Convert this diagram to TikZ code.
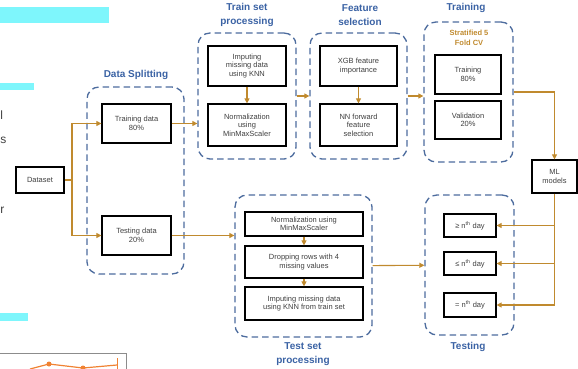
\documentclass[tikz,border=0pt]{standalone}
\usepackage{fontspec}
\setmainfont{Liberation Sans}
\usetikzlibrary{positioning,arrows.meta}
\definecolor{colFlecha}{HTML}{C08A2E}
\definecolor{colMarco}{HTML}{4D6C9E}
\definecolor{colTitulo}{HTML}{3A62A4}
\definecolor{colBarra}{HTML}{7EF6FC}
\definecolor{colGrafico}{HTML}{F08232}

\begin{document}
\begin{tikzpicture}[
  x=1pt, y=-1pt,
  >=Stealth,
  caja/.style={
    rectangle, draw=black, line width=1.2pt, fill=white,
    text=black!75, align=center, inner sep=1pt,
    font=\fontsize{7.5}{8.6}\selectfont
  },
  grupo/.style={
    rectangle, draw=colMarco, line width=1.3pt,
    dash pattern=on 6.5pt off 4pt, rounded corners=12pt
  },
  titulo/.style={
    text=colTitulo, align=center,
    font=\bfseries\fontsize{10}{13.5}\selectfont
  },
  flecha/.style={
    draw=colFlecha, line width=1.1pt,
    -{Triangle[length=5pt,width=5pt]}
  },
  linea/.style={draw=colFlecha, line width=1.1pt},
  resto/.style={anchor=base west, text=black!75, inner sep=0pt,
    font=\fontsize{12}{14}\selectfont}
]
  \useasboundingbox (0,0) rectangle (578,369);

  % restos de la diapositiva
  \fill[colBarra] (0,7) rectangle (109,23);
  \fill[colBarra] (0,83) rectangle (34,90);
  \fill[colBarra] (0,313) rectangle (28,321);
  \node[resto] (frag1) at (0.3,119) {l};
  \node[resto] (frag2) at (0.3,143) {s};
  \node[resto] (frag3) at (0.3,213) {r};
  \draw[black!45, line width=0.8pt] (-2,353) rectangle (126,380);
  \draw[colGrafico, line width=1.2pt] (30,369) -- (49,364) -- (83,368) -- (117,365);
  \fill[colGrafico] (49,364) circle (2.5pt) (83,368) circle (2.5pt);
  \draw[colGrafico, line width=1pt] (117,358) -- (117,370);

  % Dataset
  \node[caja, minimum width=48pt, minimum height=26pt] (dataset) at (40,180) {Dataset};

  % Data Splitting
  \node[grupo, minimum width=97pt, minimum height=187pt] (split) at (135.5,180.5) {};
  \node[titulo] (tsplit) at (136,75) {Data Splitting};
  \node[caja, minimum width=69pt, minimum height=39pt] (trainData) at (136.5,123.5) {Training data\\80\%};
  \node[caja, minimum width=69pt, minimum height=39pt] (testData) at (136.5,235.5) {Testing data\\20\%};

  % Train set processing
  \node[grupo, minimum width=98pt, minimum height=126pt] (trainProc) at (247,96) {};
  \node[titulo] (ttrainProc) at (247,15) {Train set\\processing};
  \node[caja, minimum width=78pt, minimum height=40pt] (impTrain) at (247,66) {Imputing\\missing data\\using KNN};
  \node[caja, minimum width=78pt, minimum height=42pt] (normTrain) at (247,125) {Normalization\\using\\MinMaxScaler};

  % Feature selection
  \node[grupo, minimum width=97pt, minimum height=126pt] (feat) at (358.5,96) {};
  \node[titulo] (tfeat) at (360,15) {Feature\\selection};
  \node[caja, minimum width=77pt, minimum height=40pt] (xgb) at (358.5,66) {XGB feature\\importance};
  \node[caja, minimum width=77pt, minimum height=42pt] (nnff) at (358.5,125) {NN forward\\feature\\selection};

  % Training
  \node[grupo, minimum width=89pt, minimum height=140pt] (train) at (468.5,92) {};
  \node[titulo] (ttrain) at (466,8) {Training};
  \node[text=colFlecha, align=center, font=\bfseries\fontsize{7.5}{9.5}\selectfont] (strat) at (469,38) {Stratified 5\\Fold CV};
  \node[caja, minimum width=66pt, minimum height=39pt] (tr80) at (468,74.5) {Training\\80\%};
  \node[caja, minimum width=66pt, minimum height=38pt] (val20) at (468,120) {Validation\\20\%};

  % ML models
  \node[caja, minimum width=45pt, minimum height=33pt] (ml) at (554.5,176.5) {ML\\models};

  % Test set processing
  \node[grupo, minimum width=137pt, minimum height=142pt] (testProc) at (303.5,266) {};
  \node[titulo] (ttestProc) at (303,354) {Test set\\processing};
  \node[caja, minimum width=118pt, minimum height=24pt] (normTest) at (304,224) {Normalization using\\MinMaxScaler};
  \node[caja, minimum width=118pt, minimum height=32pt] (dropRows) at (304,262) {Dropping rows with 4\\missing values};
  \node[caja, minimum width=118pt, minimum height=33pt] (impTest) at (304,303.5) {Imputing missing data\\using KNN from train set};

  % Testing
  \node[grupo, minimum width=89pt, minimum height=140pt] (testing) at (469.5,265) {};
  \node[titulo] (ttesting) at (468,347) {Testing};
  \node[caja, minimum width=52pt, minimum height=23pt] (ge) at (470,225.5) {≥ n\textsuperscript{th} day};
  \node[caja, minimum width=52pt, minimum height=23pt] (le) at (470,263.5) {≤ n\textsuperscript{th} day};
  \node[caja, minimum width=52pt, minimum height=24pt] (eq) at (470,305) {= n\textsuperscript{th} day};

  % Conexiones
  \coordinate (bif) at (72,180);
  \draw[linea] (dataset) -- (bif);
  \draw[flecha] (bif) |- (trainData);
  \draw[flecha] (bif) |- (testData);
  \draw[flecha] (trainData) -- (trainData -| trainProc.west);
  \draw[flecha] (impTrain) -- (normTrain);
  \draw[flecha] (trainProc) -- (feat);
  \draw[flecha] (xgb) -- (nnff);
  \draw[flecha] (feat.east) -- (feat.east -| train.west);
  \draw[flecha] (train.east) -| (ml.north);
  \draw[flecha] (testData) -- (testData -| testProc.west);
  \draw[flecha] (normTest) -- (dropRows);
  \draw[flecha] (dropRows) -- (impTest);
  \draw[flecha] (testProc) -- (testing);
  \draw[linea] (ml.south) -- (ml.south |- eq);
  \foreach \n in {ge,le,eq}
    \draw[flecha] (ml.south |- \n) -- (\n.east);

\end{tikzpicture}
\end{document}
